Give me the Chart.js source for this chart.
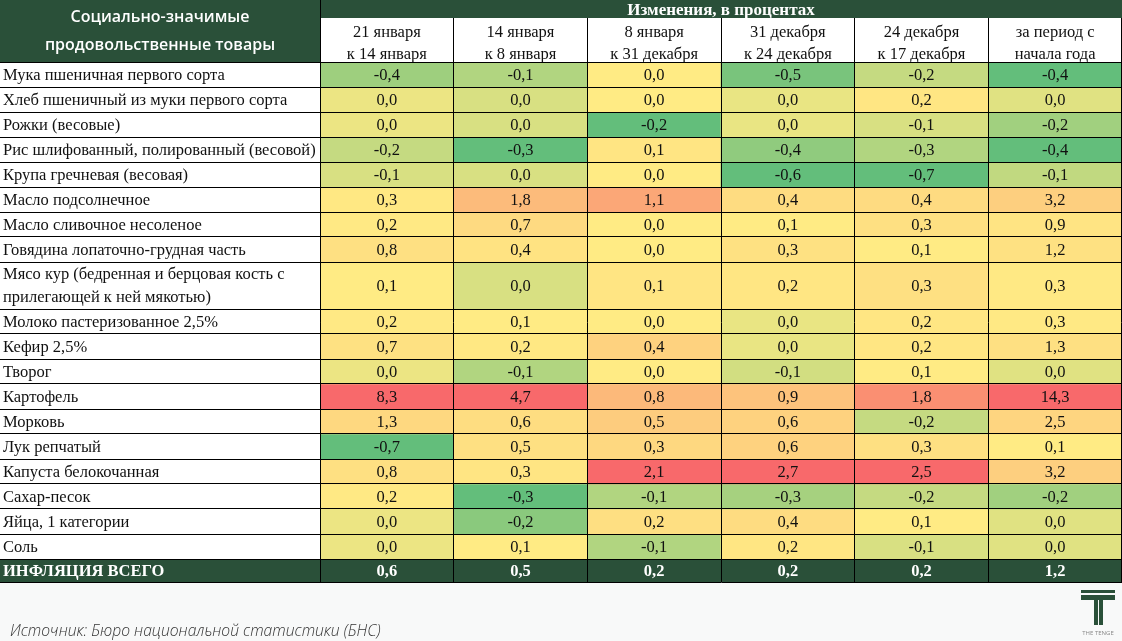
<!DOCTYPE html>
<html lang="ru">
<head>
<meta charset="utf-8">
<title>Социально-значимые продовольственные товары</title>
<script src="https://cdn.jsdelivr.net/npm/chart.js@4.4.0/dist/chart.umd.min.js"></script>
<style>
  html, body { margin: 0; padding: 0; background: #f8f9f9; }
  #wrap { position: relative; width: 1122px; height: 641px; }
</style>
</head>
<body>
<div id="wrap"><canvas id="tableChart"></canvas></div>
<script>
// Названия товаров (строки таблицы)
const rowLabels = [
  "Мука пшеничная первого сорта",
  "Хлеб пшеничный из муки первого сорта",
  "Рожки (весовые)",
  "Рис шлифованный, полированный (весовой)",
  "Крупа гречневая (весовая)",
  "Масло подсолнечное",
  "Масло сливочное несоленое",
  "Говядина лопаточно-грудная часть",
  ["Мясо кур (бедренная и берцовая кость с", "прилегающей к ней мякотью)"],
  "Молоко пастеризованное 2,5%",
  "Кефир 2,5%",
  "Творог",
  "Картофель",
  "Морковь",
  "Лук репчатый",
  "Капуста белокочанная",
  "Сахар-песок",
  "Яйца, 1 категории",
  "Соль"
];
const totalLabel = "ИНФЛЯЦИЯ ВСЕГО";

// Заголовки периодов (столбцы)
const periodLabels = [
  ["21 января", "к 14 января"],
  ["14 января", "к 8 января"],
  ["8 января", "к 31 декабря"],
  ["31 декабря", "к 24 декабря"],
  ["24 декабря", "к 17 декабря"],
  ["за период с", "начала года"]
];

// Изменения цен, в процентах, по каждому периоду
const jan21 = [-0.4, 0.0, 0.0, -0.2, -0.1, 0.3, 0.2, 0.8, 0.1, 0.2, 0.7, 0.0, 8.3, 1.3, -0.7, 0.8, 0.2, 0.0, 0.0];
const jan14 = [-0.1, 0.0, 0.0, -0.3, 0.0, 1.8, 0.7, 0.4, 0.0, 0.1, 0.2, -0.1, 4.7, 0.6, 0.5, 0.3, -0.3, -0.2, 0.1];
const jan8 = [0.0, 0.0, -0.2, 0.1, 0.0, 1.1, 0.0, 0.0, 0.1, 0.0, 0.4, 0.0, 0.8, 0.5, 0.3, 2.1, -0.1, 0.2, -0.1];
const dec31 = [-0.5, 0.0, 0.0, -0.4, -0.6, 0.4, 0.1, 0.3, 0.2, 0.0, 0.0, -0.1, 0.9, 0.6, 0.6, 2.7, -0.3, 0.4, 0.2];
const dec24 = [-0.2, 0.2, -0.1, -0.3, -0.7, 0.4, 0.3, 0.1, 0.3, 0.2, 0.2, 0.1, 1.8, -0.2, 0.3, 2.5, -0.2, 0.1, -0.1];
const ytd = [-0.4, 0.0, -0.2, -0.4, -0.1, 3.2, 0.9, 1.2, 0.3, 0.3, 1.3, 0.0, 14.3, 2.5, 0.1, 3.2, -0.2, 0.0, 0.0];
// Итоговая строка
const totals = [0.6, 0.5, 0.2, 0.2, 0.2, 1.2];

const sourceText = "Источник: Бюро национальной статистики (БНС)";

const DARK = "#2a5039";
const SERIF = "'Liberation Serif', 'Times New Roman', serif";
const GREEN = [99, 190, 123], YELLOW = [255, 235, 132], RED = [248, 105, 107];

const columns = [jan21, jan14, jan8, dec31, dec24, ytd];

// Шкала цвета для каждого столбца: минимум - зелёный, медиана - жёлтый, максимум - красный
function columnScale(col) {
  const s = [...col].sort((a, b) => a - b);
  const pos = (s.length - 1) * 0.5;
  const lo = Math.floor(pos);
  const mid = s[lo] + (s[Math.ceil(pos)] - s[lo]) * (pos - lo);
  return { min: s[0], mid: mid, max: s[s.length - 1] };
}
function mix(a, b, t) {
  return "rgb(" + a.map((v, i) => Math.round(v + (b[i] - v) * t)).join(",") + ")";
}
function heat(v, sc) {
  if (v <= sc.mid) {
    const t = sc.mid === sc.min ? 1 : (v - sc.min) / (sc.mid - sc.min);
    return mix(GREEN, YELLOW, t);
  }
  const t = sc.max === sc.mid ? 1 : (v - sc.mid) / (sc.max - sc.mid);
  return mix(YELLOW, RED, t);
}
const colScales = columns.map(columnScale);

// Высота строки: двухстрочная подпись почти вдвое выше, итог чуть ниже
const rowSpan = (label) => {
  if (Array.isArray(label)) return 1 + 0.88 * (label.length - 1);
  return label === totalLabel ? 0.92 : 1;
};
const allRows = rowLabels.concat([totalLabel]);
const bounds = [0];
allRows.forEach((l) => bounds.push(bounds[bounds.length - 1] + rowSpan(l)));
const totalUnits = bounds[bounds.length - 1];
const lastRow = allRows.length - 1;

// Каждая строка таблицы - отдельный набор плавающих столбиков
const datasets = allRows.map((label, r) => {
  const isTotal = r === lastRow;
  const values = columns.map((col, c) => (isTotal ? totals[c] : col[r]));
  return {
    label: Array.isArray(label) ? label.join(" ") : label,
    values: values,
    isTotal: isTotal,
    data: values.map(() => [bounds[r], bounds[r + 1]]),
    backgroundColor: isTotal ? DARK : values.map((v, c) => heat(v, colScales[c])),
    borderWidth: 0,
    grouped: false,
    categoryPercentage: 1,
    barPercentage: 1
  };
});

const fmt = (v) => v.toFixed(1).replace(".", ",");

// Фон, шапка, подпись источника и логотип
const tableDecor = {
  id: "tableDecor",
  beforeDraw(chart) {
    const { ctx, chartArea, scales } = chart;
    const y = scales.y;
    ctx.save();
    ctx.fillStyle = "#f8f9f9";
    ctx.fillRect(0, 0, chart.width, chart.height);
    ctx.fillStyle = "#ffffff";
    ctx.fillRect(0, 0, chart.width, chartArea.bottom);
    ctx.fillStyle = DARK;
    ctx.fillRect(0, 0, chartArea.left, chartArea.top);
    ctx.fillRect(chartArea.left, 0, chart.width - chartArea.left, 18);
    const tTop = y.getPixelForValue(bounds[lastRow]);
    ctx.fillRect(0, tTop, chartArea.left, chartArea.bottom - tTop);
    ctx.strokeStyle = "#000";
    ctx.lineWidth = 1;
    ctx.beginPath();
    ctx.moveTo(chartArea.left + 0.5, 0);
    ctx.lineTo(chartArea.left + 0.5, 18);
    ctx.stroke();

    ctx.fillStyle = "#ffffff";
    ctx.font = "600 16px 'Open Sans', sans-serif";
    ctx.textAlign = "center";
    ctx.textBaseline = "middle";
    ctx.fillText("Социально-значимые", chartArea.left / 2, 17);
    ctx.fillText("продовольственные товары", chartArea.left / 2, 45);

    ctx.fillStyle = "#333333";
    ctx.font = "italic 300 15.7px 'Open Sans', sans-serif";
    ctx.textAlign = "left";
    ctx.fillText(sourceText, 10, 632);

    ctx.fillStyle = DARK;
    ctx.fillRect(1081, 590, 34, 3);
    ctx.fillRect(1081, 595, 34, 5);
    ctx.fillRect(1094, 595, 4, 30);
    ctx.fillRect(1099, 595, 4, 30);
    ctx.fillStyle = "#888";
    ctx.font = "6px 'Open Sans', sans-serif";
    ctx.textAlign = "center";
    ctx.fillText("THE TENGE", 1098, 633);
    ctx.restore();
  },
  afterDatasetsDraw(chart) {
    const { ctx } = chart;
    ctx.save();
    ctx.textAlign = "center";
    ctx.textBaseline = "middle";
    chart.data.datasets.forEach((ds, i) => {
      const meta = chart.getDatasetMeta(i);
      ctx.font = (ds.isTotal ? "bold " : "") + "16.5px " + SERIF;
      ctx.fillStyle = ds.isTotal ? "#ffffff" : "#111111";
      meta.data.forEach((bar, j) => {
        ctx.fillText(fmt(ds.values[j]), bar.x, (bar.y + bar.base) / 2 + 1);
      });
    });
    ctx.restore();
  }
};

// Метки оси Y: границы строк (линии) и центры строк (подписи)
function buildRowTicks(scale) {
  const ticks = [];
  for (let r = 0; r < allRows.length; r++) {
    ticks.push({ value: bounds[r] });
    ticks.push({ value: (bounds[r] + bounds[r + 1]) / 2 });
  }
  ticks.push({ value: totalUnits });
  scale.ticks = ticks;
}

new Chart(document.getElementById("tableChart"), {
  type: "bar",
  data: { labels: periodLabels, datasets: datasets },
  plugins: [tableDecor],
  options: {
    responsive: true,
    maintainAspectRatio: false,
    animation: false,
    events: [],
    layout: { padding: { left: 3, right: 0, top: 0, bottom: 59 } },
    plugins: { legend: { display: false }, tooltip: { enabled: false } },
    scales: {
      x: {
        position: "top",
        offset: true,
        afterFit: (s) => { s.height = 62; },
        grid: { color: "#000", tickColor: "#000", lineWidth: 1, offset: true, tickLength: 44, z: 1 },
        border: { display: true, color: "#000", z: 1 },
        title: {
          display: true,
          text: "Изменения, в процентах",
          color: "#ffffff",
          font: { family: SERIF, size: 17, weight: "bold", lineHeight: 1.1 },
          padding: { top: 1, bottom: 0 }
        },
        ticks: {
          color: "#111",
          font: { family: SERIF, size: 16.5, lineHeight: 1.36 },
          padding: -48,
          maxRotation: 0,
          autoSkip: false
        }
      },
      y: {
        type: "linear",
        reverse: true,
        min: 0,
        max: totalUnits,
        afterBuildTicks: buildRowTicks,
        afterFit: (s) => { s.width = 317; },
        grid: {
          color: (ctx) => (ctx.index % 2 === 0 ? "#000" : "rgba(0,0,0,0)"),
          tickColor: (ctx) => (ctx.index % 2 === 0 ? "#000" : "rgba(0,0,0,0)"),
          lineWidth: 1,
          tickLength: 320,
          z: 1
        },
        border: { display: true, color: "#000", z: 1 },
        ticks: {
          autoSkip: false,
          crossAlign: "far",
          padding: 0,
          labelOffset: 1,
          color: (ctx) => (ctx.index === lastRow * 2 + 1 ? "#ffffff" : "#111111"),
          font: (ctx) => ({
            family: SERIF,
            size: 16.5,
            weight: ctx.index === lastRow * 2 + 1 ? "bold" : "normal",
            lineHeight: 1.4
          }),
          callback: (value, index) => (index % 2 === 0 ? "" : allRows[(index - 1) / 2])
        }
      }
    }
  }
});
</script>
</body>
</html>
